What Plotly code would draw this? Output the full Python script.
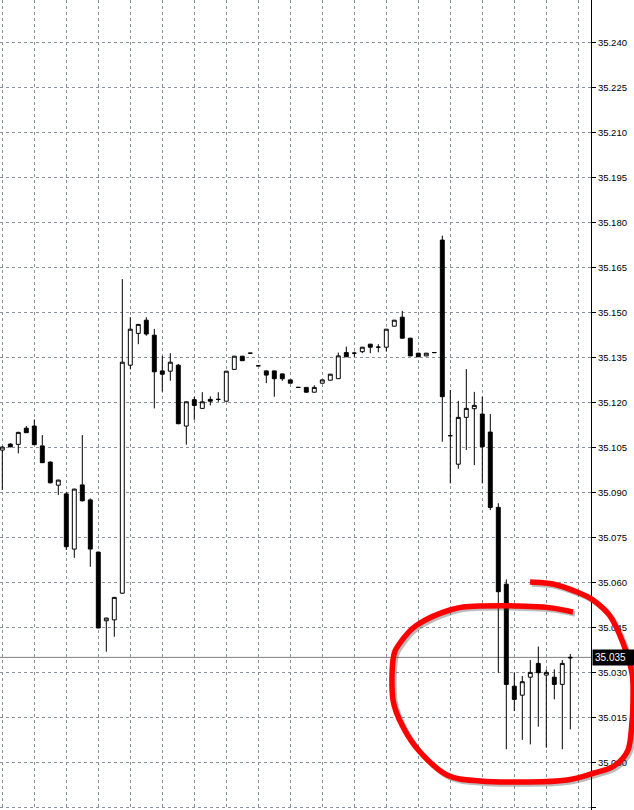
import plotly.graph_objects as go

# ---- data (price offsets in 0.001 above 35.000) ----
bars = list(range(72))
open_k = [104.3, 106.3, 106.2, 111.6, 112.3, 105.7, 100.3, 92.6, 89.7, 71.3,
          92.7, 87.7, 70.3, 47.4, 47.7, 56.6, 132.6, 143.2, 147.6, 142.6,
          130.7, 130.6, 132.6, 112.3, 121.1, 118.2, 121.2, 121.2, 120.6, 131.2,
          135.6, 136.6, 132.4, 130.7, 130.7, 129.7, 127.7, 125.2, 125.2, 123.6,
          126.6, 127.6, 128.1, 136.8, 136.6, 137.1, 139.6, 138.6, 138.6, 145.6,
          148.6, 141.6, 136.6, 135.7, 136.8, 174.3, 109.1, 99.6, 115.2, 118.1,
          116.3, 110.3, 85.2, 59.6, 25.6, 22.6, 28.6, 33.2, 29.3, 28.6,
          26.2, 35.0]
high_k = [105.7, 106.6, 110.4, 112.3, 114.5, 109.3, 100.5, 94.4, 90.4, 91.4,
          109.3, 88.2, 70.4, 48.4, 55.3, 161.3, 148.6, 146.3, 148.6, 144.7,
          135.7, 136.6, 133.0, 120.5, 122.1, 123.6, 122.2, 123.6, 130.7, 135.7,
          135.7, 136.6, 132.4, 130.8, 130.8, 129.8, 127.8, 125.2, 125.3, 125.9,
          127.7, 129.7, 136.8, 138.8, 137.1, 138.7, 139.7, 139.6, 144.7, 147.7,
          150.7, 141.7, 136.7, 136.7, 136.8, 175.8, 124.3, 120.7, 131.3, 123.7,
          122.1, 116.3, 86.6, 61.2, 30.1, 29.0, 34.3, 38.8, 31.2, 31.2,
          34.3, 36.3]
low_k = [91.0, 105.2, 103.2, 110.0, 106.0, 100.0, 93.2, 89.3, 71.0, 68.4,
         87.2, 65.4, 44.9, 37.1, 42.1, 56.4, 131.2, 139.6, 142.4, 118.2,
         123.8, 127.4, 112.9, 106.1, 114.4, 118.1, 119.2, 120.4, 120.5, 131.1,
         134.0, 136.6, 132.4, 126.6, 122.1, 127.4, 126.5, 125.2, 123.5, 123.5,
         126.5, 127.5, 128.0, 135.3, 135.4, 136.6, 136.6, 136.9, 137.1, 145.5,
         141.5, 135.6, 135.3, 135.6, 136.8, 107.1, 93.2, 98.1, 104.3, 99.3,
         93.2, 84.3, 30.1, 4.6, 17.3, 7.7, 6.2, 12.1, 5.1, 21.2,
         4.6, 11.2]
close_k = [105.3, 105.4, 110.2, 110.1, 106.1, 100.1, 93.4, 94.3, 72.1, 91.3,
           87.4, 71.3, 45.0, 48.3, 55.2, 133.6, 144.6, 146.2, 143.0, 130.4,
           129.6, 133.6, 113.1, 120.4, 119.2, 120.4, 120.6, 121.2, 130.6, 135.6,
           134.1, 136.6, 132.4, 129.3, 128.1, 128.1, 126.6, 125.2, 123.6, 125.2,
           127.7, 129.6, 135.7, 135.4, 136.6, 138.6, 138.6, 138.6, 144.6, 147.6,
           141.6, 135.7, 135.4, 136.6, 136.8, 122.1, 109.1, 115.2, 118.2, 119.2,
           105.4, 85.2, 57.1, 26.2, 21.2, 27.1, 30.2, 30.1, 30.2, 26.2,
           33.2, 35.2]

base_price = 35.000
opens = [round(base_price + v / 1000, 4) for v in open_k]
highs = [round(base_price + v / 1000, 4) for v in high_k]
lows = [round(base_price + v / 1000, 4) for v in low_k]
closes = [round(base_price + v / 1000, 4) for v in close_k]

tick_vals = [round(34.985 + 0.015 * i, 3) for i in range(19)]
tick_text = ["%.3f" % v for v in tick_vals]
current_price = 35.0352
current_label = "35.035"

# hand-drawn red marker (pixel coords of the page)
red_stroke = [(530, 582), (553, 584), (577, 592), (593, 600), (610, 616), (623, 643),
              (632, 673), (633, 700), (632, 722), (628, 750), (614, 766), (594, 773),
              (567, 780), (530, 782), (480, 781), (447, 775), (420, 752), (403, 727),
              (393, 700), (393, 660), (400, 643), (417, 625), (450, 610), (480, 606),
              (543, 607), (573, 612)]

W, H = 634, 810
PLOT_W = 591


def to_paper(pt, dx=0, dy=0):
    return ((pt[0] + dx) / PLOT_W, 1 - (pt[1] + dy) / H)


def smooth_path(points, dx=0, dy=0):
    p = [to_paper(q, dx, dy) for q in points]
    d = "M %.5f,%.5f" % p[0]
    for i in range(len(p) - 1):
        p0 = p[i - 1] if i > 0 else p[i]
        p1 = p[i]
        p2 = p[i + 1]
        p3 = p[i + 2] if i + 2 < len(p) else p[i + 1]
        c1 = (p1[0] + (p2[0] - p0[0]) / 6, p1[1] + (p2[1] - p0[1]) / 6)
        c2 = (p2[0] - (p3[0] - p1[0]) / 6, p2[1] - (p3[1] - p1[1]) / 6)
        d += " C %.5f,%.5f %.5f,%.5f %.5f,%.5f" % (c1 + c2 + p2)
    return d


fig = go.Figure()
fig.add_trace(go.Candlestick(
    x=bars, open=opens, high=highs, low=lows, close=closes,
    increasing=dict(line=dict(color="black", width=1), fillcolor="white"),
    decreasing=dict(line=dict(color="black", width=1), fillcolor="black"),
    whiskerwidth=0, showlegend=False, hoverinfo="skip",
))

grid_col = "#8a939d"
fig.update_layout(
    width=W, height=H,
    margin=dict(l=0, r=W - PLOT_W, t=0, b=0),
    paper_bgcolor="white", plot_bgcolor="white",
    font=dict(family="Liberation Sans, Arial, sans-serif", size=9.5, color="black"),
    xaxis=dict(range=[-0.2875, 73.5875], showticklabels=False, ticks="",
               showgrid=True, gridcolor=grid_col, griddash="3px,3px", gridwidth=1,
               tick0=0, dtick=4, zeroline=False, rangeslider=dict(visible=False),
               showline=False, fixedrange=True),
    yaxis=dict(side="right", range=[34.98433, 35.25433], tickmode="array",
               tickvals=tick_vals, ticktext=tick_text, ticks="outside", ticklen=4,
               tickcolor="black", showline=True, linecolor="black", linewidth=1,
               showgrid=True, gridcolor=grid_col, griddash="3px,3px", gridwidth=1,
               zeroline=False, fixedrange=True),
    boxgap=0.3,
)

fig.add_shape(type="line", xref="paper", yref="y", x0=0, x1=1,
              y0=current_price, y1=current_price,
              line=dict(color="#808080", width=1), layer="below")

fig.add_annotation(xref="paper", yref="y", x=1, y=current_price, xanchor="left",
                   yanchor="middle", xshift=1, text=current_label, showarrow=False,
                   bgcolor="black", font=dict(color="white", size=10), borderpad=2,
                   width=38, align="left")

# shadow + red freehand stroke
fig.add_shape(type="path", xref="paper", yref="paper", path=smooth_path(red_stroke, 2, 2),
              line=dict(color="rgba(60,60,60,0.35)", width=5.5), layer="above")
fig.add_shape(type="path", xref="paper", yref="paper", path=smooth_path(red_stroke),
              line=dict(color="#ff0000", width=5.5), layer="above")

fig.write_html("out.html", config={"displayModeBar": False},
               post_script="document.body.style.margin='0px';document.body.style.overflow='hidden';")
